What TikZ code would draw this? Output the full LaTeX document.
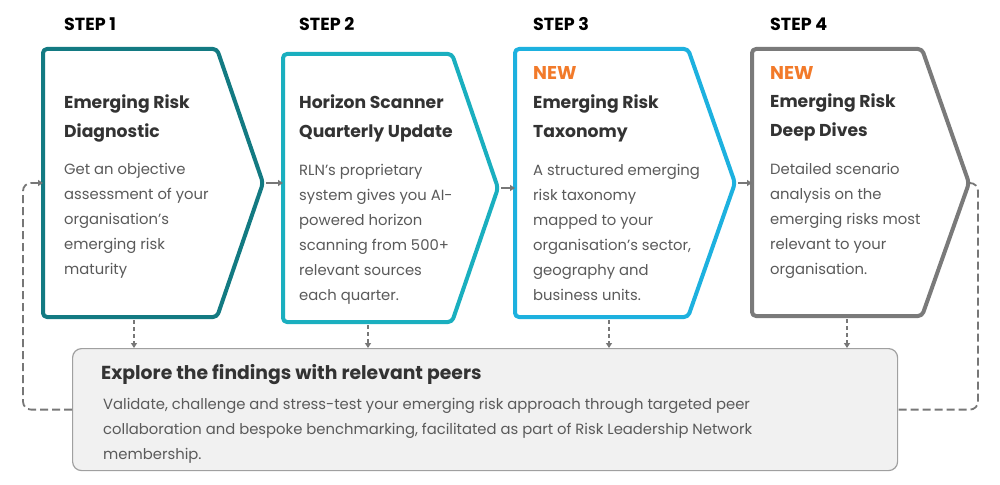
\documentclass[tikz,border=0pt]{standalone}
\usepackage{fontspec}
\setmainfont{Poppins}
\usetikzlibrary{arrows.meta}
\definecolor{cA}{HTML}{137A82}
\definecolor{cB}{HTML}{1AAFBF}
\definecolor{cC}{HTML}{1DB1DF}
\definecolor{cD}{HTML}{7A7A7A}
\definecolor{newc}{HTML}{F27A2A}
\definecolor{ttl}{HTML}{333333}
\definecolor{bdy}{HTML}{5A5A5A}
\definecolor{arr}{HTML}{777777}
\definecolor{peerfill}{HTML}{F1F1F1}
\definecolor{peerline}{HTML}{A0A0A0}
\tikzset{
  chevron/.style={line width=4pt, rounded corners=4pt, fill=white, line join=round},
  steplbl/.style={anchor=base west, inner sep=0pt, text=black, font=\bfseries\fontsize{17.5}{20}\selectfont},
  newlbl/.style={anchor=base west, inner sep=0pt, text=newc, font=\bfseries\fontsize{18.5}{20}\selectfont},
  ttlbox/.style={anchor=north west, inner sep=0pt, align=left, text=ttl, font=\bfseries\fontsize{17.2}{29}\selectfont},
  bdybox/.style={anchor=north west, inner sep=0pt, align=left, text=bdy, font=\fontsize{14.8}{25}\selectfont},
  flow/.style={draw=arr, line width=1.6pt, -{Triangle[length=5pt,width=6pt]}},
  dflow/.style={draw=arr, line width=1.6pt, dash pattern=on 4pt off 3pt, -{Triangle[length=5pt,width=6pt]}},
  loopline/.style={draw=arr, line width=1.8pt, dash pattern=on 8pt off 4pt, rounded corners=8pt},
  peers/.style={draw=peerline, fill=peerfill, line width=1.2pt, rounded corners=9pt, minimum width=825pt, minimum height=122pt, inner sep=0pt, anchor=north west},
}
\begin{document}
\begin{tikzpicture}[x=1pt,y=-1pt]
\useasboundingbox (0,0) rectangle (1000,484);
\fill[white] (0,0) rectangle (1000,484);

% step labels
\node[steplbl] (s1) at (64,31) {STEP 1};
\node[steplbl] (s2) at (299,31) {STEP 2};
\node[steplbl] (s3) at (533,31) {STEP 3};
\node[steplbl] (s4) at (770,31) {STEP 4};

% chevrons
\draw[chevron, draw=cA] (43,49) -- (217,49) -- (263,183) -- (217,317) -- (43,317) -- cycle;
\coordinate (b1w) at (43,183); \coordinate (b1tip) at (263,183); \coordinate (b1s) at (134,317);
\draw[chevron, draw=cB] (283,54) -- (452,54) -- (498,188) -- (452,322) -- (283,322) -- cycle;
\coordinate (b2w) at (283,188); \coordinate (b2tip) at (498,188); \coordinate (b2s) at (368,322);
\draw[chevron, draw=cC] (515,49) -- (688,49) -- (735,183) -- (688,317) -- (515,317) -- cycle;
\coordinate (b3w) at (515,183); \coordinate (b3tip) at (735,183); \coordinate (b3s) at (609,317);
\draw[chevron, draw=cD] (752,49) -- (922,49) -- (969,183) -- (922,316) -- (752,316) -- cycle;
\coordinate (b4w) at (752,183); \coordinate (b4tip) at (969,183); \coordinate (b4s) at (847,316);

% peers box
\node[peers] (peer) at (72,348) {};

% texts box 1
\node[ttlbox] (t1) at (64,92) {\rule{0pt}{16pt}Emerging Risk\\Diagnostic};
\node[bdybox] (d1) at (64,160) {\rule{0pt}{14pt}Get an objective\\assessment of your\\organisation’s\\emerging risk\\maturity};
% box 2
\node[ttlbox] (t2) at (299,92) {\rule{0pt}{16pt}Horizon Scanner\\Quarterly Update};
\node[bdybox] (d2) at (299,161) {\rule{0pt}{14pt}RLN’s proprietary\\system gives you AI-\\powered horizon\\scanning from 500+\\relevant sources\\each quarter.};
% box 3
\node[newlbl] (n3) at (533,80) {NEW};
\node[ttlbox] (t3) at (533,92) {\rule{0pt}{16pt}Emerging Risk\\Taxonomy};
\node[bdybox] (d3) at (533,161) {\rule{0pt}{14pt}A structured emerging\\risk taxonomy\\mapped to your\\organisation’s sector,\\geography and\\business units.};
% box 4
\node[newlbl] (n4) at (770,80) {NEW};
\node[ttlbox] (t4) at (770,91) {\rule{0pt}{16pt}Emerging Risk\\Deep Dives};
\node[bdybox] (d4) at (770,160) {\rule{0pt}{14pt}Detailed scenario\\analysis on the\\emerging risks most\\relevant to your\\organisation.};

% peers text
\node[anchor=base west, inner sep=0pt, text=ttl, font=\bfseries\fontsize{18.8}{20}\selectfont] (pt) at (101,379) {Explore the findings with relevant peers};
\node[bdybox] (pd) at (103,395) {\rule{0pt}{14pt}Validate, challenge and stress-test your emerging risk approach through targeted peer\\collaboration and bespoke benchmarking, facilitated as part of Risk Leadership Network\\membership.};

% horizontal flow arrows
\draw[flow, shorten <=3pt] (b1tip) -- (b1tip -| b2w);
\draw[flow, shorten <=3pt] (b2tip) -- (b2tip -| b3w);
\draw[flow, shorten <=3pt] (b3tip) -- (b3tip -| b4w);

% vertical dashed arrows
\draw[dflow, shorten <=3pt] (b1s) -- (b1s |- peer.north);
\draw[dflow, shorten <=3pt] (b2s) -- (b2s |- peer.north);
\draw[dflow, shorten <=3pt] (b3s) -- (b3s |- peer.north);
\draw[dflow, shorten <=3pt] (b4s) -- (b4s |- peer.north);

% loops
\coordinate (lx) at (23,183);
\coordinate (rx) at (978,183);
\draw[loopline, -{Triangle[length=5pt,width=6pt]}] (peer.west) -| (lx) -- (b1w);
\draw[loopline] (b4tip) -- (rx) |- (peer.east);
\end{tikzpicture}
\end{document}
